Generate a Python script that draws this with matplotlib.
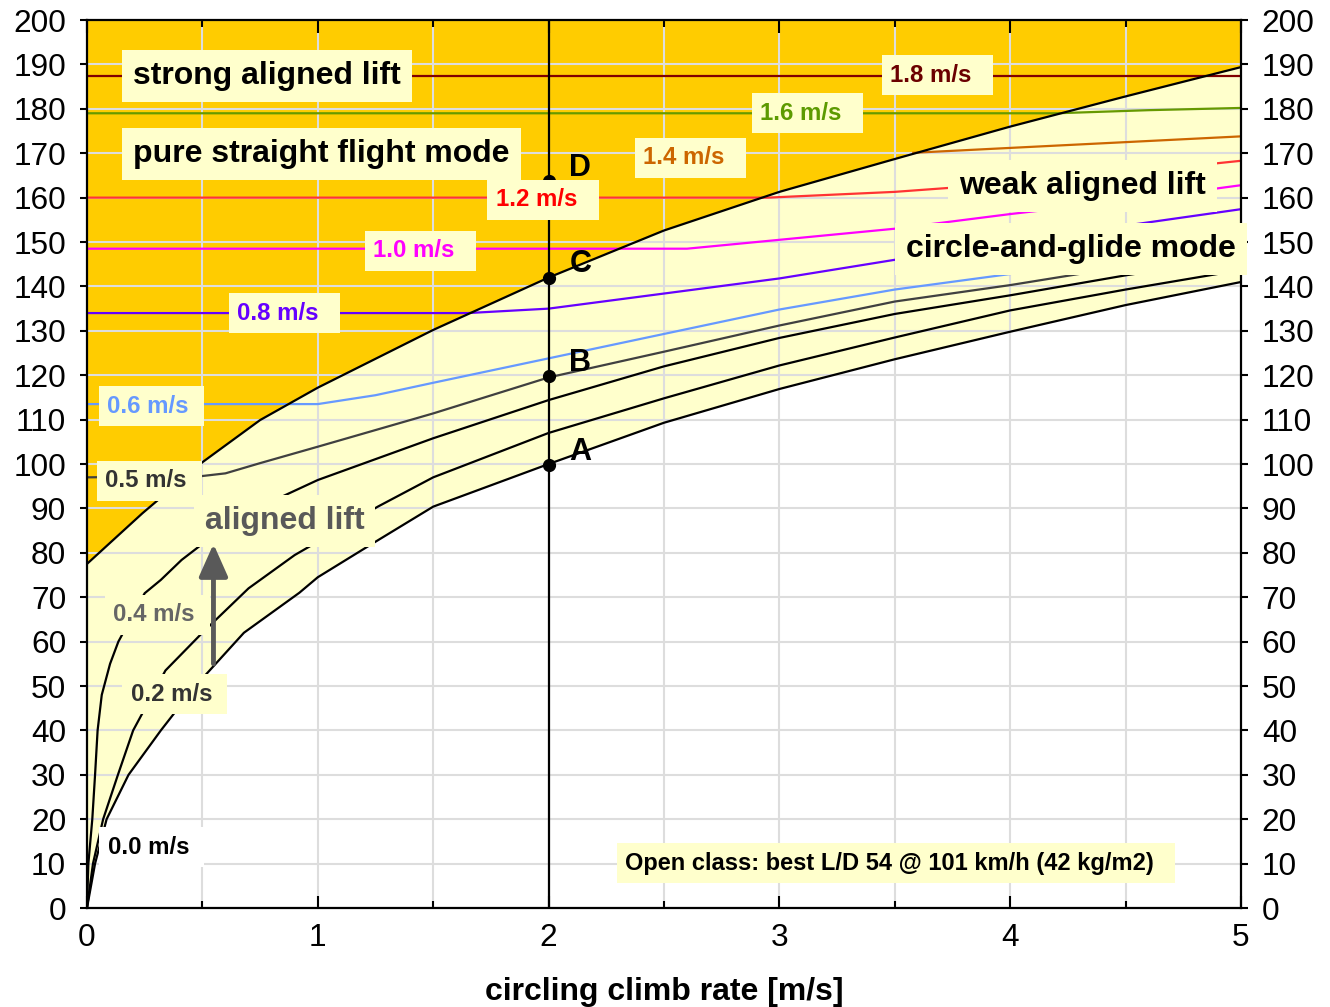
import numpy as np
import matplotlib.pyplot as plt
from matplotlib.ticker import MultipleLocator

plt.rcParams['font.family'] = ['Liberation Sans', 'DejaVu Sans']

# upper limit of circle-and-glide mode (above it: pure straight flight)
bound_x = [0, 0.24, 0.5, 0.75, 1.0, 1.5, 2.0, 2.5, 3.0, 3.5, 4.0, 4.5, 5.0]
bound_y = [77.5, 88.9, 100.4, 109.9, 117.2, 130.2, 142.0, 152.6, 161.3, 168.7, 176.0, 182.8, 189.4]

# cruise speed [km/h] vs circling climb, one curve per aligned lift strength
v00_x = [0, 0.035, 0.085, 0.18, 0.32, 0.47, 0.68, 0.92, 1.0, 1.25, 1.5, 2.0, 2.5, 3.0, 3.5, 4.0, 4.5, 5.0]
v00_y = [0, 10, 20, 30, 40, 50, 62, 71, 74.5, 82.5, 90.4, 100, 109.3, 116.9, 123.6, 129.8, 135.8, 141]

v02_x = [0, 0.026, 0.07, 0.134, 0.2, 0.34, 0.5, 0.7, 0.9, 1.0, 1.26, 1.5, 2.0, 2.5, 3.0, 3.5, 4.0, 4.5, 5.0]
v02_y = [0, 10, 20, 30, 40, 53.5, 62, 72, 79.5, 82.5, 90.4, 97, 107, 114.8, 122.2, 128.5, 134.6, 139.3, 143.7]

v04_x = [0, 0.006, 0.023, 0.035, 0.046, 0.064, 0.1, 0.136, 0.25, 0.32, 0.41, 0.5, 0.83, 1.0, 1.5,
         2.0, 2.5, 3.0, 3.5, 4.0, 4.5, 5.0]
v04_y = [0, 10, 20, 30, 40, 48, 55, 60, 70.9, 73.9, 78.4, 82, 92.3, 96.4, 105.8,
         114.4, 122.0, 128.4, 133.8, 138, 142.5, 146.5]

v05_x = [0, 0.5, 0.6, 0.75, 1.0, 1.5, 2.0, 2.5, 3.0, 3.5, 4.0, 4.5, 5.0]
v05_y = [97, 97.3, 97.9, 100.2, 103.9, 111.4, 119.5, 125.3, 131.2, 136.6, 140.3, 144.5, 148.5]

v06_x = [0, 1.0, 1.25, 1.5, 2.0, 2.5, 3.0, 3.5, 4.0, 4.5, 5.0]
v06_y = [113.5, 113.5, 115.5, 118.3, 123.8, 129.3, 134.8, 139.3, 142.8, 146.5, 150]

v08_x = [0, 1.65, 2.0, 2.5, 3.0, 3.5, 4.0, 4.5, 5.0]
v08_y = [134, 134, 135, 138.4, 141.8, 146, 150, 153.7, 157.4]

v10_x = [0, 2.6, 3.0, 3.5, 4.0, 4.5, 5.0]
v10_y = [148.5, 148.5, 150.5, 153, 156.3, 159.3, 162.8]

v12_x = [0, 2.95, 3.5, 4.0, 4.5, 5.0]
v12_y = [160, 160, 161.3, 163.2, 165.6, 168.3]

v14_x = [3.58, 4.0, 4.5, 5.0]
v14_y = [170.1, 171.2, 172.5, 173.8]

v16_x = [0, 4.2, 4.6, 5.0]
v16_y = [179, 179, 179.7, 180.2]

v18_x = [0, 5.0]
v18_y = [187.5, 187.5]

# operating points on the 2 m/s climb line
pt_names = ['A', 'B', 'C', 'D']
pt_y = [99.7, 119.8, 142.0, 163.7]
pt_climb = 2.0

BOX = '#ffffcc'

fig = plt.figure(figsize=(13.3, 10.07), dpi=100)
ax = fig.add_axes([0.0654, 0.0983, 0.8677, 0.8818])

# straight flight region and circle-and-glide region
ax.fill(np.r_[bound_x, 5, 0], np.r_[bound_y, 200, 200], color='#ffcc00', lw=0, zorder=1)
ax.fill(np.r_[bound_x, v00_x[::-1]], np.r_[bound_y, v00_y[::-1]], color=BOX, lw=0, zorder=1)

lw = 1.6
ax.plot(v18_x, v18_y, color='#800000', lw=lw)
ax.plot(v16_x, v16_y, color='#669900', lw=lw)
ax.plot(v14_x, v14_y, color='#cc6600', lw=lw)
ax.plot(v12_x, v12_y, color='#ff3333', lw=lw)
ax.plot(v10_x, v10_y, color='#ff00ff', lw=lw)
ax.plot(v08_x, v08_y, color='#6600ff', lw=lw)
ax.plot(v06_x, v06_y, color='#6699ff', lw=lw)
ax.plot(v05_x, v05_y, color='#404040', lw=lw)
ax.plot(v04_x, v04_y, color='k', lw=lw)
ax.plot(v02_x, v02_y, color='k', lw=lw)
ax.plot(v00_x, v00_y, color='k', lw=lw)
ax.plot(bound_x, bound_y, color='k', lw=lw, zorder=2.2)

ax.axvline(pt_climb, color='k', lw=1.6, zorder=2.5)
ax.plot([pt_climb] * len(pt_y), pt_y, 'o', color='k', ms=8.5, zorder=4)
for name, y in zip(pt_names, pt_y):
    ax.text(pt_climb + 0.09, y + 3.0, name, fontsize=22, fontweight='bold', va='center', zorder=5)


def label(x, y, s, color='k', size=17.3, bg=BOX):
    ax.text(x, y, s, color=color, fontsize=size, fontweight='bold', va='center', ha='left',
            zorder=5, clip_on=False,
            bbox=dict(boxstyle='square,pad=0.35', fc=bg, ec='none'))


label(3.48, 187.6, '1.8 m/s  ', '#6b0000')
label(2.916, 179.0, '1.6 m/s  ', '#5c9a00')
label(2.41, 169.0, '1.4 m/s  ', '#cc6600')
label(1.77, 159.5, '1.2 m/s  ', '#ff0000')
label(1.24, 148.0, '1.0 m/s  ', '#ff00ff')
label(0.65, 134.0, '0.8 m/s  ', '#6600ff')
label(0.087, 113.0, '0.6 m/s ', '#6699ff')
label(0.078, 96.2, '0.5 m/s ', '#333333')
label(0.113, 66.0, '0.4 m/s ', '#666666')
label(0.19, 48.2, '0.2 m/s ', '#333333')
label(0.09, 13.7, '0.0 m/s ', 'k', bg='white')

label(0.2, 187.4, 'strong aligned lift', size=23)
label(0.2, 169.8, 'pure straight flight mode', size=23)
label(3.78, 162.6, 'weak aligned lift', size=23)
label(3.55, 148.4, 'circle-and-glide mode', size=23)
label(0.51, 87.2, 'aligned lift', '#595959', size=23)
label(2.33, 10.1, 'Open class: best L/D 54 @ 101 km/h (42 kg/m2)  ', size=17)

ax.annotate('', xy=(0.548, 82), xytext=(0.548, 55),
            arrowprops=dict(arrowstyle='-|>,head_length=0.9,head_width=0.4',
                            color='#595959', lw=3.5, mutation_scale=22, shrinkA=0, shrinkB=0),
            zorder=4)

ax.set_xlim(0, 5)
ax.set_ylim(0, 200)
ax.xaxis.set_major_locator(MultipleLocator(1))
ax.xaxis.set_minor_locator(MultipleLocator(0.5))
ax.yaxis.set_major_locator(MultipleLocator(10))
ax.grid(True, which='both', color='#dddddd', lw=1.5)
ax.tick_params(axis='x', which='both', direction='in', top=True, width=1.5, labelsize=22.8, pad=11)
ax.tick_params(axis='x', which='major', length=9)
ax.tick_params(axis='x', which='minor', length=5)
ax.tick_params(axis='y', direction='out', right=True, labelright=True, length=5, width=1.5,
               labelsize=22.8, pad=10)
for sp in ax.spines.values():
    sp.set_linewidth(1.6)

ax.set_xlabel('circling climb rate [m/s]', fontsize=23, fontweight='bold', labelpad=17)

fig.savefig('out.png', dpi=100)
